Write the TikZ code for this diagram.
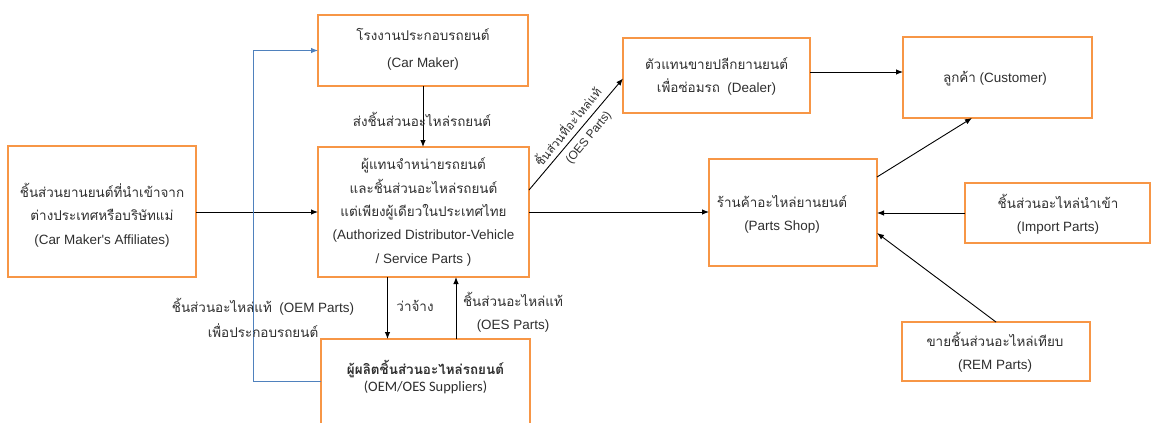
\documentclass[tikz,border=0pt]{standalone}
\usepackage{fontspec}
\setmainfont{Liberation Sans}
\newfontfamily\thai[Script=Thai]{Loma}
\newfontfamily\calib{Carlito}
\usetikzlibrary{arrows.meta}
\definecolor{boxorange}{HTML}{F79646}
\definecolor{linkblue}{HTML}{4F81BD}
\definecolor{ink}{HTML}{2E2E2E}

\begin{document}
\begin{tikzpicture}[x=1bp,y=-1bp,
  box/.style={draw=boxorange, line width=2.6bp, rectangle, inner sep=0pt, outer sep=0pt},
  txt/.style={text=ink, align=center, inner sep=0pt, font=\fontsize{13.5}{23.5}\selectfont},
  flow/.style={draw=black, line width=0.9bp, -{Latex[length=7bp,width=5.5bp]}},
  bluelink/.style={draw=linkblue, line width=0.9bp, -{Latex[length=7bp,width=5.5bp]}}
]
\useasboundingbox (0,0) rectangle (1152,422);
\clip (0,0) rectangle (1152,422);

% boxes
\node[box, minimum width=210bp, minimum height=71bp]  (maker)  at (423,50.5) {};
\node[box, minimum width=211bp, minimum height=130bp] (dist)   at (423.5,212) {};
\node[box, minimum width=188bp, minimum height=131bp] (aff)    at (102,211.5) {};
\node[box, minimum width=209bp, minimum height=111bp] (supp)   at (425.5,394.5) {};
\node[box, minimum width=187bp, minimum height=75bp]  (dealer) at (716.5,75.5) {};
\node[box, minimum width=189bp, minimum height=81bp]  (cust)   at (997.5,77.5) {};
\node[box, minimum width=168bp, minimum height=107bp] (shop)   at (793,212.5) {};
\node[box, minimum width=185bp, minimum height=60bp]  (imp)    at (1057.5,213) {};
\node[box, minimum width=188bp, minimum height=59bp]  (rem)    at (996,351.5) {};

% box texts
\node[txt] (makerT) at (423,49) {{\thai โรงงานประกอบรถยนต์}\\[3.5bp](Car Maker)};
\node[txt] (distT) at (423.5,212) {{\thai ผู้แทนจำหน่ายรถยนต์}\\{\thai และชิ้นส่วนอะไหล่รถยนต์}\\{\thai แต่เพียงผู้เดียวในประเทศไทย}\\(Authorized Distributor-Vehicle\\/ Service Parts )};
\node[txt] (affT) at (102,215) {{\thai ชิ้นส่วนยานยนต์ที่นำเข้าจาก}\\{\thai ต่างประเทศหรือบริษัทแม่}\\(Car Maker\textquotesingle s Affiliates)};
\node[txt, font=\thai\bfseries\fontsize{13.5}{16}\selectfont] (suppT) at (425.5,369) {ผู้ผลิตชิ้นส่วนอะไหล่รถยนต์};
\node[txt, font=\calib\fontsize{14.5}{17}\selectfont] (suppE) at (425.5,387) {(OEM/OES Suppliers)};
\node[txt] (dealerT) at (716.5,76.5) {{\thai ตัวแทนขายปลีกยานยนต์}\\{\thai เพื่อซ่อมรถ}\ \ (Dealer)};
\node[txt] (custT) at (995,79) {{\thai ลูกค้า} (Customer)};
\node[txt] (shopT) at (782,214.5) {{\thai ร้านค้าอะไหล่ยานยนต์}\\(Parts Shop)};
\node[txt] (impT) at (1058,214) {{\thai ชิ้นส่วนอะไหล่นำเข้า}\\(Import Parts)};
\node[txt] (remT) at (995,352) {{\thai ขายชิ้นส่วนอะไหล่เทียบ}\\(REM Parts)};

% connectors
\draw[flow] (maker.south) -- (maker.south |- dist.north);
\draw[flow] (aff.east |- dist.west) -- (dist.west);
\draw[bluelink] ([yshift=-42bp]supp.north west) -- ++(-68,0) |- (maker.west);
\draw[flow] ([xshift=-36bp]dist.south) -- ([xshift=-36bp]dist.south |- supp.north);
\draw[flow] ([xshift=30.5bp]supp.north) -- ([xshift=30.5bp]supp.north |- dist.south);
\draw[flow] ([yshift=22bp]dist.east) -- ([yshift=-3bp]dealer.west);
\draw[flow] ([yshift=3.5bp]dealer.east) -- ([yshift=3.5bp]dealer.east -| cust.west);
\draw[flow] (dist.east) -- (dist.east -| shop.west);
\draw[flow] ([yshift=-18bp]shop.north east) -- ([xshift=-25.5bp]cust.south);
\draw[flow] (imp.west) -- (imp.west -| shop.east);
\draw[flow] (rem.north) -- ([yshift=33bp]shop.south east);

% connector labels
\node[txt] (sendL) at (422,119) {{\thai ส่งชิ้นส่วนอะไหล่รถยนต์}};
\node[txt] (hireL) at (415,306) {{\thai ว่าจ้าง}};
\node[txt] (oesL) at (513,312) {{\thai ชิ้นส่วนอะไหล่แท้}\\(OES Parts)};
\node[txt] (oemL) at (263,318) {{\thai ชิ้นส่วนอะไหล่แท้}\ \ (OEM Parts)\\[1.5bp]{\thai เพื่อประกอบรถยนต์}};
\node[txt, font=\thai\fontsize{12}{14}\selectfont, rotate=51] (diagT) at (567,126) {ชิ้นส่วนที่อะไหล่แท้};
\node[txt, font=\fontsize{12}{14}\selectfont, rotate=51] (diagE) at (589,138) {(OES Parts)};
\end{tikzpicture}
\end{document}
